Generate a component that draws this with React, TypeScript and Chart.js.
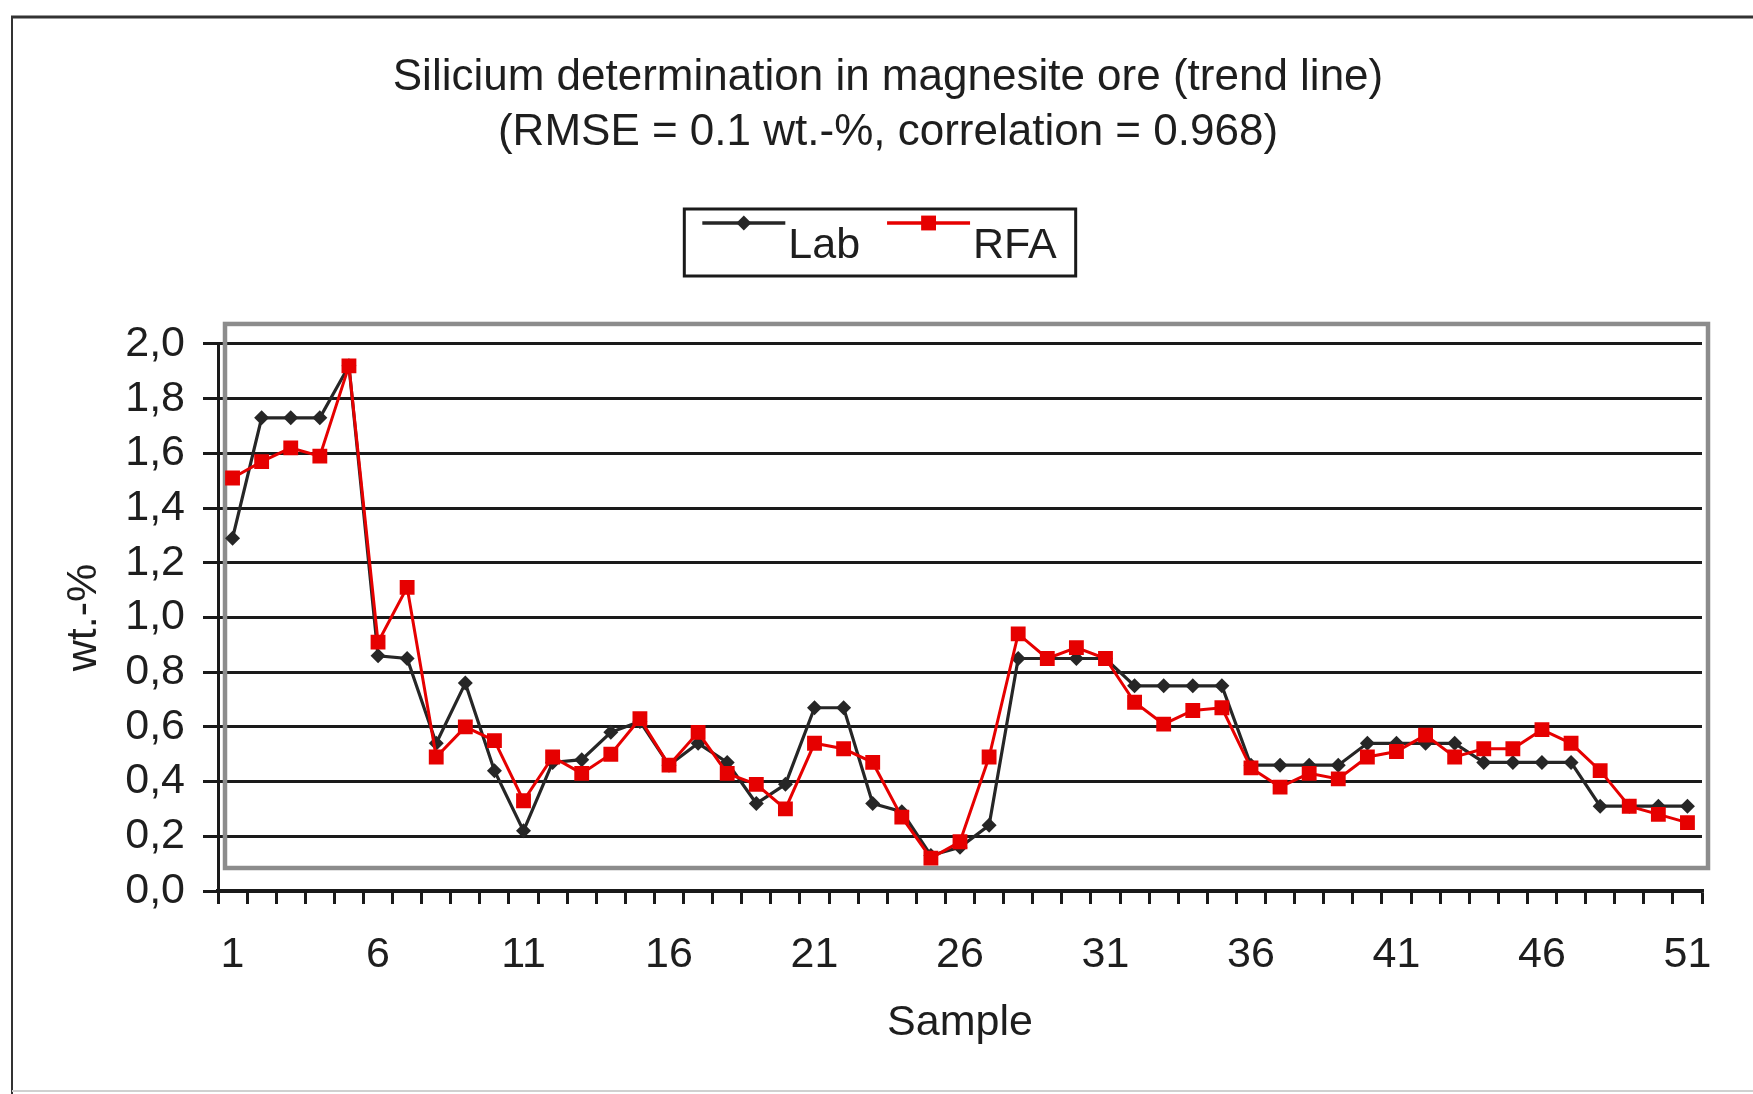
import { useEffect, useRef } from 'react';
import { Chart, registerables } from 'chart.js';

Chart.register(...registerables);

const sampleLabels = [
  '1', '2', '3', '4', '5', '6', '7', '8', '9', '10',
  '11', '12', '13', '14', '15', '16', '17', '18', '19', '20',
  '21', '22', '23', '24', '25', '26', '27', '28', '29', '30',
  '31', '32', '33', '34', '35', '36', '37', '38', '39', '40',
  '41', '42', '43', '44', '45', '46', '47', '48', '49', '50', '51',
];

const labValues = [
  1.29, 1.73, 1.73, 1.73, 1.92, 0.86, 0.85, 0.54, 0.76, 0.44,
  0.22, 0.47, 0.48, 0.58, 0.62, 0.46, 0.54, 0.47, 0.32, 0.39,
  0.67, 0.67, 0.32, 0.29, 0.13, 0.16, 0.24, 0.85, 0.85, 0.85,
  0.85, 0.75, 0.75, 0.75, 0.75, 0.46, 0.46, 0.46, 0.46, 0.54,
  0.54, 0.54, 0.54, 0.47, 0.47, 0.47, 0.47, 0.31, 0.31, 0.31, 0.31,
];

const rfaValues = [
  1.51, 1.57, 1.62, 1.59, 1.92, 0.91, 1.11, 0.49, 0.60, 0.55,
  0.33, 0.49, 0.43, 0.50, 0.63, 0.46, 0.58, 0.43, 0.39, 0.30,
  0.54, 0.52, 0.47, 0.27, 0.12, 0.18, 0.49, 0.94, 0.85, 0.89,
  0.85, 0.69, 0.61, 0.66, 0.67, 0.45, 0.38, 0.43, 0.41, 0.49,
  0.51, 0.57, 0.49, 0.52, 0.52, 0.59, 0.54, 0.44, 0.31, 0.28, 0.25,
];

const titleLines = [
  'Silicium determination in magnesite ore (trend line)',
  '(RMSE = 0.1 wt.-%, correlation = 0.968)',
];

const FONT = '"Liberation Sans", Arial, Helvetica, sans-serif';
const TEXT = '#1e1e1e';
const INK = '#1a1a1a';
const LAB_COLOR = '#262626';
const RFA_COLOR = '#e60000';

function drawMarker(ctx: CanvasRenderingContext2D, style: string, x: number, y: number, r: number, color: string) {
  ctx.save();
  ctx.fillStyle = color;
  ctx.beginPath();
  if (style === 'rectRot') {
    ctx.moveTo(x, y - r);
    ctx.lineTo(x + r, y);
    ctx.lineTo(x, y + r);
    ctx.lineTo(x - r, y);
    ctx.closePath();
  } else {
    const s = r * Math.SQRT1_2;
    ctx.rect(x - s, y - s, 2 * s, 2 * s);
  }
  ctx.fill();
  ctx.restore();
}

const decorPlugin = {
  id: 'decor',
  beforeDraw(chart: any) {
    const { ctx, width, height } = chart;
    ctx.save();
    ctx.fillStyle = '#ffffff';
    ctx.fillRect(0, 0, width, height);
    ctx.strokeStyle = '#333333';
    ctx.lineWidth = 3;
    ctx.beginPath();
    ctx.moveTo(11, 17);
    ctx.lineTo(width, 17);
    ctx.stroke();
    ctx.lineWidth = 2;
    ctx.beginPath();
    ctx.moveTo(12, 17);
    ctx.lineTo(12, height);
    ctx.stroke();
    ctx.strokeStyle = '#d0d0d0';
    ctx.beginPath();
    ctx.moveTo(12, height - 3);
    ctx.lineTo(width, height - 3);
    ctx.stroke();
    ctx.restore();
  },
  beforeDatasetsDraw(chart: any) {
    const { ctx, chartArea } = chart;
    const { left, right, top, bottom } = chartArea;
    ctx.save();
    ctx.strokeStyle = '#8c8c8c';
    ctx.lineWidth = 4.5;
    ctx.strokeRect(left + 7, top - 20, right + 6 - (left + 7), bottom - 23 - (top - 20));
    ctx.restore();
  },
  afterDraw(chart: any) {
    const { ctx } = chart;
    const tb = chart.titleBlock;
    const cx = tb ? (tb.left + tb.right) / 2 - 8 : chart.width / 2;
    const top = 209;
    const h = 67;
    ctx.save();
    ctx.font = `43px ${FONT}`;
    const items = chart.data.datasets.map((ds: any) => ({
      label: ds.label as string,
      color: ds.borderColor as string,
      style: ds.pointStyle as string,
      radius: ds.pointRadius as number,
      tw: ctx.measureText(ds.label).width,
    }));
    const lineLen = 83;
    let total = 18;
    items.forEach((it: any, i: number) => {
      total += lineLen + 3 + it.tw;
      if (i < items.length - 1) total += 27;
    });
    total += 19;
    const left = cx - total / 2;
    ctx.strokeStyle = INK;
    ctx.lineWidth = 3;
    ctx.strokeRect(left, top, total, h);
    let x = left + 18;
    const ly = top + 14;
    items.forEach((it: any) => {
      ctx.strokeStyle = it.color;
      ctx.lineWidth = 3.5;
      ctx.beginPath();
      ctx.moveTo(x, ly);
      ctx.lineTo(x + lineLen, ly);
      ctx.stroke();
      drawMarker(ctx, it.style, x + lineLen / 2, ly, it.radius, it.color);
      ctx.fillStyle = TEXT;
      ctx.textAlign = 'left';
      ctx.textBaseline = 'alphabetic';
      ctx.fillText(it.label, x + lineLen + 3, top + 49);
      x += lineLen + 3 + it.tw + 27;
    });
    ctx.restore();
  },
};

export default function App() {
  const ref = useRef<HTMLCanvasElement>(null);

  useEffect(() => {
    const canvas = ref.current;
    if (!canvas) return;
    const chart = new Chart(canvas, {
      type: 'line',
      data: {
        labels: sampleLabels,
        datasets: [
          {
            label: 'Lab',
            data: labValues,
            borderColor: LAB_COLOR,
            backgroundColor: LAB_COLOR,
            borderWidth: 3.2,
            pointStyle: 'rectRot',
            pointRadius: 7.5,
            pointBorderWidth: 0,
            pointBackgroundColor: LAB_COLOR,
            tension: 0,
            order: 1,
          },
          {
            label: 'RFA',
            data: rfaValues,
            borderColor: RFA_COLOR,
            backgroundColor: RFA_COLOR,
            borderWidth: 3,
            pointStyle: 'rect',
            pointRadius: 10.5,
            pointBorderWidth: 0,
            pointBackgroundColor: RFA_COLOR,
            tension: 0,
            order: 0,
          },
        ],
      },
      options: {
        responsive: false,
        animation: false,
        events: [],
        layout: { padding: { left: 74, right: 51, top: 0, bottom: 0 } },
        plugins: {
          legend: { display: false },
          tooltip: { enabled: false },
          title: {
            display: true,
            text: titleLines,
            color: TEXT,
            font: { family: FONT, size: 44, weight: 'normal', lineHeight: 1.27 },
            padding: { top: 49.5, bottom: 182.7 },
          },
        },
        scales: {
          x: {
            type: 'category',
            offset: true,
            ticks: {
              autoSkip: false,
              maxRotation: 0,
              minRotation: 0,
              padding: 25,
              color: TEXT,
              font: { family: FONT, size: 43 },
              callback: function (this: any, val: any, idx: number) {
                return idx % 5 === 0 ? this.getLabelForValue(val) : '';
              },
            },
            grid: {
              offset: true,
              drawOnChartArea: false,
              drawTicks: true,
              tickLength: 13,
              color: INK,
              lineWidth: 3,
            },
            border: { display: true, color: INK, width: 3.2 },
            title: {
              display: true,
              text: 'Sample',
              color: TEXT,
              font: { family: FONT, size: 43 },
              padding: { top: 0, bottom: 45 },
            },
            afterFit: (s: any) => {
              s.height = 203;
            },
          },
          y: {
            min: 0,
            max: 2,
            ticks: {
              stepSize: 0.2,
              padding: 18,
              color: TEXT,
              font: { family: FONT, size: 43 },
              callback: (v: any) => Number(v).toFixed(1).replace('.', ','),
            },
            grid: {
              color: INK,
              lineWidth: 3,
              drawTicks: true,
              tickLength: 15,
            },
            border: { display: true, color: INK, width: 3 },
            title: {
              display: true,
              text: 'wt.-%',
              color: TEXT,
              font: { family: FONT, size: 43 },
              padding: { top: -16, bottom: 0 },
            },
            afterFit: (s: any) => {
              s.width = 144;
            },
          },
        },
      },
      plugins: [decorPlugin],
    } as any);
    return () => chart.destroy();
  }, []);

  return (
    <div style={{ position: 'fixed', left: 0, top: 0, width: 1753, height: 1094, background: '#fff' }}>
      <canvas ref={ref} width={1753} height={1094} style={{ display: 'block', width: 1753, height: 1094 }} />
    </div>
  );
}
